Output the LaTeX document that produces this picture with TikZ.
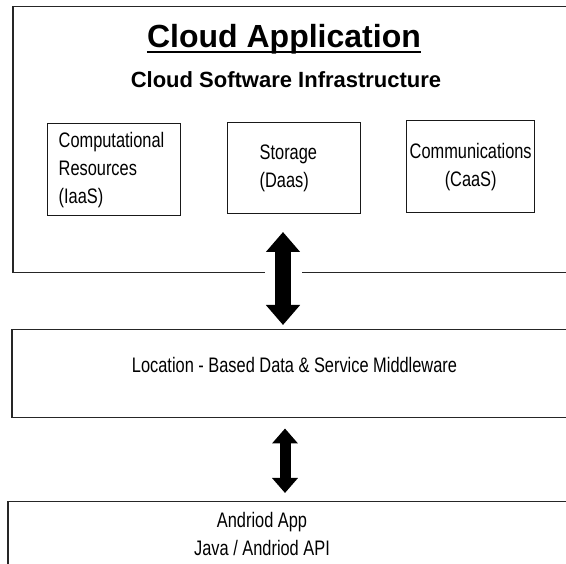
\documentclass[tikz,border=0pt]{standalone}
\usepackage{fontspec}
\setmainfont{Liberation Sans}
\newfontfamily\narrowfont[FakeStretch=0.78]{Liberation Sans}
\usetikzlibrary{arrows.meta}

\tikzset{
  layer/.style={draw=black!85, line width=1.5pt, anchor=north west,
    minimum width=570pt, inner sep=0pt},
  service/.style={draw=black!90, line width=1.4pt, anchor=north west,
    minimum height=92pt, font=\narrowfont\fontsize{21}{28}\selectfont},
  plain/.style={font=\narrowfont\fontsize{21}{28}\selectfont, inner sep=0pt},
  bigarrow/.style={line width=16.5pt,
    {Triangle[width=33pt,length=20pt]}-{Triangle[width=33pt,length=20pt]},
    preaction={draw=white, line width=37pt, arrows=-}},
  smallarrow/.style={line width=11pt,
    {Triangle[width=25pt,length=15pt]}-{Triangle[width=25pt,length=15pt]}}
}

\begin{document}
\begin{tikzpicture}[x=1pt, y=-1pt]
  \path[use as bounding box, clip] (0,0) rectangle (566,564);

  % the three layers
  \node[layer, minimum height=266pt] (cloud) at (12,6) {};
  \node[layer, minimum height=88pt] (mid) at (11,329) {};
  \node[layer, minimum height=100pt] (app) at (7,501) {};

  \node[font=\bfseries\fontsize{32}{38}\selectfont, inner sep=0pt, anchor=base]
    (title) at (284,48) {Cloud Application};
  \draw[line width=2pt] ([yshift=-4pt]title.base west) -- ([yshift=-4pt]title.base east);
  \node[font=\bfseries\fontsize{22}{26}\selectfont, inner sep=0pt, anchor=base]
    (sub) at (286,88) {Cloud Software Infrastructure};

  \node[service, minimum width=133pt, text width=111pt, inner xsep=11pt, align=left]
    (comp) at (47,123) {Computational\\Resources\\(IaaS)};
  \node[service, minimum width=133pt, minimum height=91pt, text width=69pt, align=left]
    (stor) at (227,122) {Storage\\(Daas)};
  \node[service, minimum width=123pt, inner xsep=3pt, align=center]
    (comm) at (406,120) {Communications\\(CaaS)};

  \node[plain, anchor=base] (midtext) at (294.5,373)
    {Location - Based Data \& Service Middleware};
  \node[plain, anchor=north, align=center] (apptext) at (262,512.5)
    {Andriod App\\Java / Andriod API};

  % connectors
  \coordinate (up) at (283,232);
  \coordinate (down) at (285,0);
  \draw[bigarrow, shorten >=4pt] (up) -- (up |- mid.north);
  \draw[smallarrow, shorten <=10pt, shorten >=8pt] (down |- mid.south) -- (down |- app.north);
\end{tikzpicture}
\end{document}
